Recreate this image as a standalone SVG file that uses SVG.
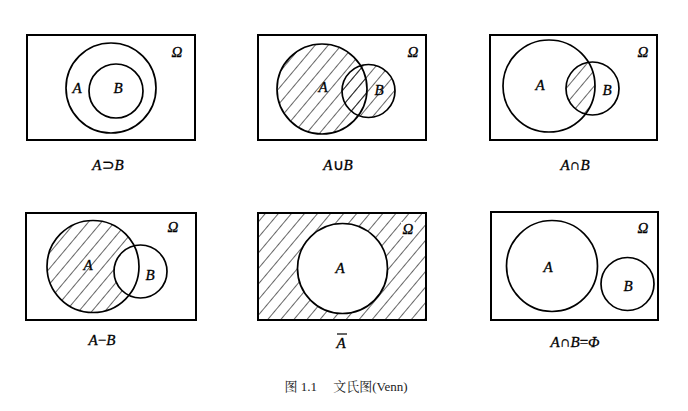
<svg xmlns="http://www.w3.org/2000/svg" width="688" height="411" viewBox="0 0 688 411">
<style>
.box{fill:none;stroke:#000;stroke-width:2}
.c{fill:none;stroke:#000;stroke-width:1.7}
.w{fill:#fff;stroke:#000;stroke-width:1.7}
.l{font-family:"Liberation Serif","Times New Roman",serif;font-style:italic;font-size:15px;fill:#000;stroke:#000;stroke-width:0.3}
.cap{font-family:"Liberation Serif","Times New Roman",serif;font-size:15px;fill:#000;stroke:#000;stroke-width:0.3}
.fig{font-family:"Liberation Serif","Noto Serif CJK SC","Noto Sans CJK SC",serif;font-size:13px;fill:#222}
</style>
<defs>
<pattern id="h" width="10" height="10" patternUnits="userSpaceOnUse" patternTransform="rotate(40)">
<line x1="0" y1="0" x2="0" y2="10" stroke="#000" stroke-width="1.2"/>
</pattern>
<clipPath id="c3a"><circle cx="549" cy="86" r="46"/></clipPath>
</defs>

<g id="p1">
<rect class="box" x="27" y="35" width="168" height="105"/>
<circle class="c" cx="111" cy="88" r="45"/>
<circle class="c" cx="116" cy="91" r="27"/>
<text class="l" x="77" y="93" text-anchor="middle">A</text>
<text class="l" x="118" y="93" text-anchor="middle">B</text>
<text class="l" x="177" y="57" text-anchor="middle">Ω</text>
<text class="cap" x="108" y="170" text-anchor="middle"><tspan font-style="italic">A</tspan>⊃<tspan font-style="italic">B</tspan></text>
</g>

<g id="p2">
<rect class="box" x="258" y="35" width="168" height="105"/>
<circle cx="322" cy="89" r="45" fill="url(#h)"/>
<circle cx="368.5" cy="91" r="26.5" fill="url(#h)"/>
<circle class="c" cx="322" cy="89" r="45"/>
<circle class="c" cx="368.5" cy="91" r="26.5"/>
<text class="l" x="323" y="92" text-anchor="middle">A</text>
<text class="l" x="379" y="95" text-anchor="middle">B</text>
<text class="l" x="413" y="57" text-anchor="middle">Ω</text>
<text class="cap" x="338" y="170" text-anchor="middle"><tspan font-style="italic">A</tspan>∪<tspan font-style="italic">B</tspan></text>
</g>

<g id="p3">
<rect class="box" x="490" y="35" width="167" height="105"/>
<circle cx="592.5" cy="88.5" r="26.5" fill="url(#h)" clip-path="url(#c3a)"/>
<circle class="c" cx="549" cy="86" r="46"/>
<circle class="c" cx="592.5" cy="88.5" r="26.5"/>
<text class="l" x="540" y="90" text-anchor="middle">A</text>
<text class="l" x="607" y="95" text-anchor="middle">B</text>
<text class="l" x="643" y="57" text-anchor="middle">Ω</text>
<text class="cap" x="575" y="170" text-anchor="middle"><tspan font-style="italic">A</tspan>∩<tspan font-style="italic">B</tspan></text>
</g>

<g id="p4">
<rect class="box" x="26" y="213" width="170" height="107"/>
<circle cx="93" cy="266.5" r="46" fill="url(#h)"/>
<circle class="w" cx="140.5" cy="271.5" r="26.5"/>
<circle class="c" cx="93" cy="266.5" r="46"/>
<text class="l" x="88" y="270" text-anchor="middle">A</text>
<text class="l" x="150" y="280" text-anchor="middle">B</text>
<text class="l" x="173" y="232" text-anchor="middle">Ω</text>
<text class="cap" x="102" y="345" text-anchor="middle"><tspan font-style="italic">A</tspan>−<tspan font-style="italic">B</tspan></text>
</g>

<g id="p5">
<rect x="258" y="213" width="168" height="107" fill="url(#h)"/>
<rect class="box" x="258" y="213" width="168" height="107"/>
<circle class="w" cx="342.5" cy="268.5" r="45"/>
<rect x="401" y="222" width="14" height="14" fill="#fff"/>
<text class="l" x="340" y="273" text-anchor="middle">A</text>
<text class="l" x="408" y="234" text-anchor="middle">Ω</text>
<text class="l" x="341" y="348" text-anchor="middle">A</text>
<line x1="337" y1="334" x2="347" y2="334" stroke="#000" stroke-width="1.2"/>
</g>

<g id="p6">
<rect class="box" x="491" y="212" width="167" height="108"/>
<circle class="c" cx="552" cy="266" r="45.5"/>
<circle class="c" cx="627.5" cy="284" r="26.5"/>
<text class="l" x="548" y="272" text-anchor="middle">A</text>
<text class="l" x="628" y="291" text-anchor="middle">B</text>
<text class="l" x="643" y="233" text-anchor="middle">Ω</text>
<text class="cap" x="575" y="347" text-anchor="middle"><tspan font-style="italic">A</tspan>∩<tspan font-style="italic">B</tspan>=<tspan font-style="italic">Φ</tspan></text>
</g>

<text class="fig" x="346" y="391" text-anchor="middle">图 1.1　 文氏图(Venn)</text>
</svg>
